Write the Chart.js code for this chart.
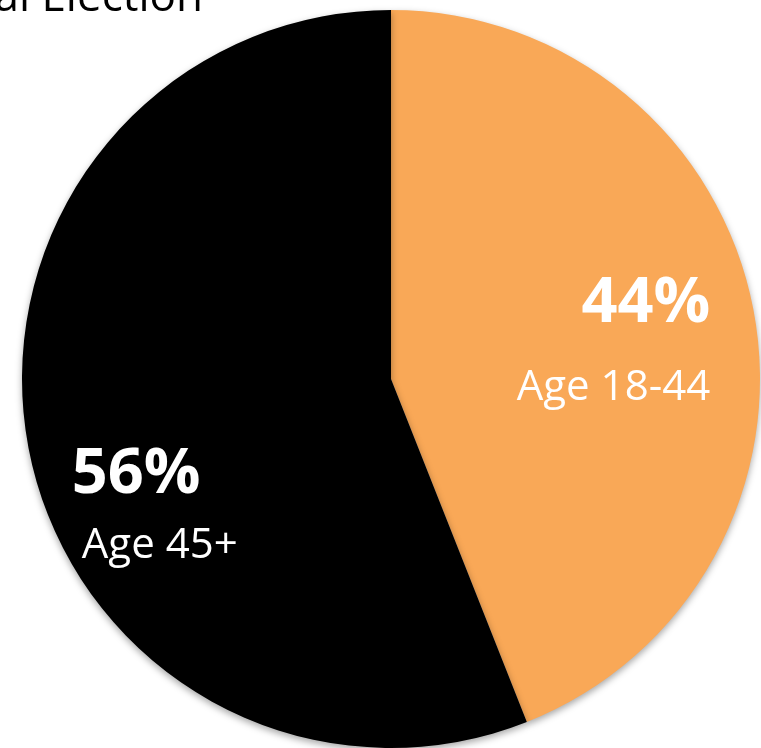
<!DOCTYPE html>
<html>
<head>
<meta charset="utf-8">
<script src="https://cdn.jsdelivr.net/npm/chart.js@4"></script>
<style>
  html, body { margin: 0; padding: 0; background: #fff; }
  #wrap { width: 761px; height: 748px; position: relative; overflow: hidden; }
</style>
</head>
<body>
<div id="wrap"><canvas id="myChart" width="761" height="748"></canvas></div>
<script>
// values
var labels = ['Age 18-44', 'Age 45+'];
var shares = [44, 56];
var colors = ['#F9A857', '#000000'];
var titleText = 'al Election';

// label spots, as fractions of the radius from the centre
var spots = [
  { dx: 0.865, pctY: -0.154, ageY: 0.057, align: 'right' },
  { dx: -0.865, pctY: 0.309, ageY: 0.485, align: 'left', ageDx: 0.027 }
];

var shadowPlugin = {
  id: 'shadow',
  beforeDatasetsDraw: function(chart) {
    var ctx = chart.ctx;
    ctx.save();
    ctx.shadowColor = 'rgba(0,0,0,0.35)';
    ctx.shadowBlur = 7;
    ctx.shadowOffsetX = 0;
    ctx.shadowOffsetY = 3;
  },
  afterDatasetsDraw: function(chart) {
    chart.ctx.restore();
  }
};

var textPlugin = {
  id: 'texts',
  afterDraw: function(chart) {
    var ctx = chart.ctx;
    var arc = chart.getDatasetMeta(0).data[0];
    var cx = arc.x, cy = arc.y, r = arc.outerRadius;
    ctx.save();
    ctx.fillStyle = '#fff';
    ctx.textBaseline = 'alphabetic';
    for (var i = 0; i < labels.length; i++) {
      var s = spots[i];
      ctx.textAlign = s.align;
      ctx.font = 'bold 63px "Open Sans"';
      ctx.fillText(shares[i] + '%', cx + s.dx * r, cy + s.pctY * r);
      ctx.font = '42px "Open Sans"';
      ctx.fillText(labels[i], cx + (s.dx + (s.ageDx || 0)) * r, cy + s.ageY * r);
    }
    // title, mostly above the top edge of the picture
    ctx.fillStyle = '#000';
    ctx.textAlign = 'right';
    ctx.font = '44px "Open Sans"';
    ctx.fillText(titleText, 203, 11);
    ctx.restore();
  }
};

const ctx = document.getElementById('myChart');
chart = new Chart(ctx, {
  type: 'pie',
  data: {
    labels: labels,
    datasets: [{
      data: shares,
      backgroundColor: colors,
      borderWidth: 0,
      hoverOffset: 0
    }]
  },
  options: {
    responsive: false,
    animation: false,
    layout: { padding: { left: 22, right: 1, top: 10, bottom: 0 } },
    plugins: {
      legend: { display: false },
      tooltip: { enabled: false }
    }
  },
  plugins: [shadowPlugin, textPlugin]
});
</script>
</body>
</html>
